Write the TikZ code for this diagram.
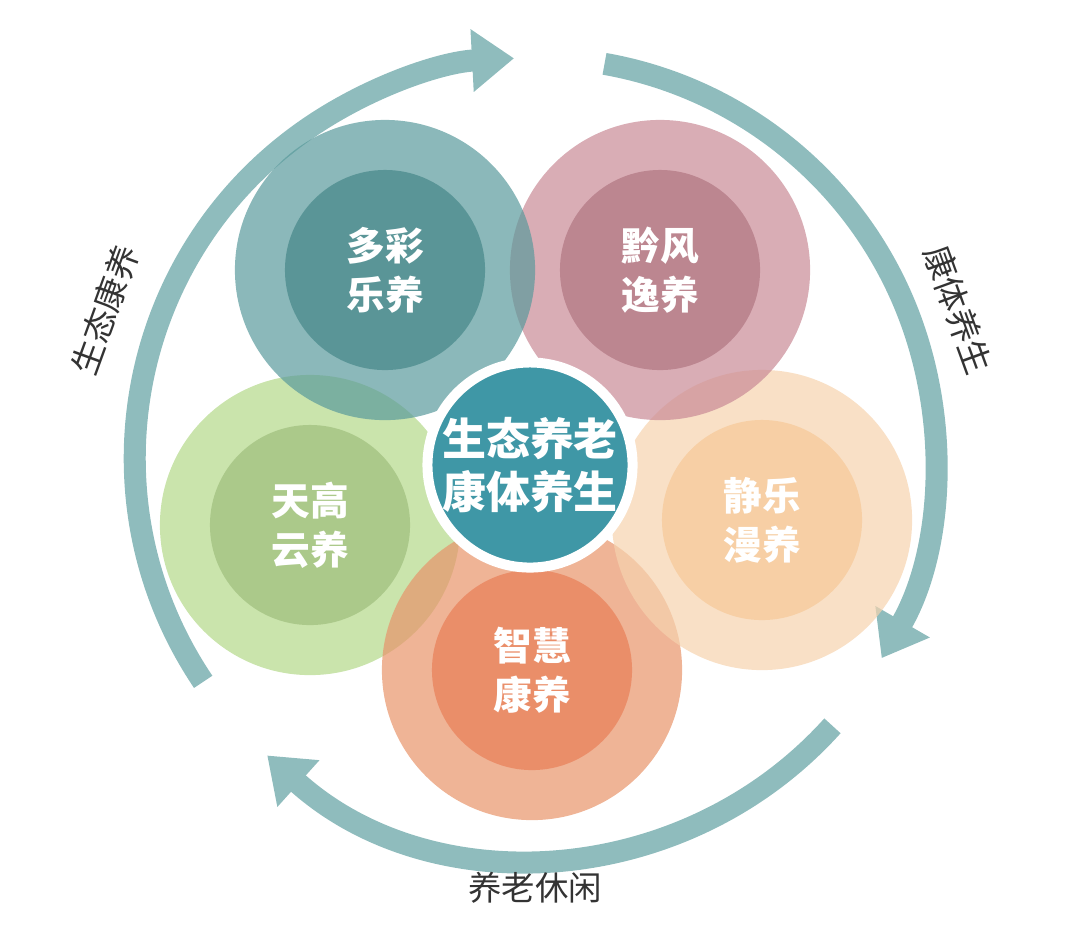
\documentclass[tikz,border=0pt]{standalone}
\usepackage{fontspec}
\setmainfont{Noto Sans CJK SC}
\usetikzlibrary{arrows.meta}
\definecolor{ringc}{HTML}{8FBCBD}
\definecolor{tealc}{HTML}{5A9A9C}
\definecolor{pinkc}{HTML}{C98A96}
\definecolor{greenc}{HTML}{B3D889}
\definecolor{peachc}{HTML}{F6D3AE}
\definecolor{orangec}{HTML}{E8946A}
\definecolor{centerc}{HTML}{3F97A6}
\begin{document}
\begin{tikzpicture}[x=0.01cm, y=-0.01cm,
    ring/.style = {draw=ringc, line width=0.22cm, -{Triangle[width=0.6cm, length=0.42cm]}},
    outer/.style = {circle, minimum size=3cm, inner sep=0pt, fill opacity=0.7},
    inner/.style = {circle, minimum size=2cm, inner sep=0pt, text=white, font=\bfseries\fontsize{11}{14}\selectfont, align=center},
    lbl/.style = {font=\fontsize{9.5}{11}\selectfont, text=black!80}]
    \useasboundingbox (0,0) rectangle (1080,932);
    \coordinate (c) at (535,458);

    % ring arrows
    \draw[ring] ([shift={(214:4cm)}]c) arc (214:93:4cm);
    \draw[ring] ([shift={(80:4cm)}]c) arc (80:-30:4cm);
    \draw[ring] ([shift={(-42:4cm)}]c) arc (-42:-132:4cm);

    % petals
    \node[outer, fill=greenc] (o3) at (310,525) {};
    \node[outer, fill=orangec] (o5) at (532,670) {};
    \node[outer, fill=peachc] (o4) at (762,520) {};
    \node[outer, fill=pinkc] (o2) at (660,270) {};
    \node[outer, fill=tealc] (o1) at (385,270) {};
    \node[inner, fill=tealc!95!black, fill opacity=0.9, text opacity=1] (i1) at (o1) {多彩\\乐养};
    \node[inner, fill=pinkc!90!black, fill opacity=0.8, text opacity=1] (i2) at (o2) {黔风\\逸养};
    \node[inner, fill=greenc!85!black, fill opacity=0.6, text opacity=1] (i3) at (o3) {天高\\云养};
    \node[inner, fill=peachc!90!orange, fill opacity=0.8, text opacity=1] (i4) at (o4) {静乐\\漫养};
    \node[inner, fill=orangec!90!red, fill opacity=0.8, text opacity=1] (i5) at (o5) {智慧\\康养};

    % centre
    \node[circle, fill=centerc, draw=white, line width=0.1cm, minimum size=2.05cm, inner sep=0pt,
        text=white, align=center, font=\bfseries\fontsize{12.5}{15}\selectfont] (mid) at (530,465) {生态养老\\康体养生};

    % labels
    \node[lbl, rotate=70] (l1) at (105,310) {生态康养};
    \node[lbl, rotate=-70] (l2) at (958,310) {康体养生};
    \node[lbl] (l3) at (535,888) {养老休闲};
\end{tikzpicture}
\end{document}
